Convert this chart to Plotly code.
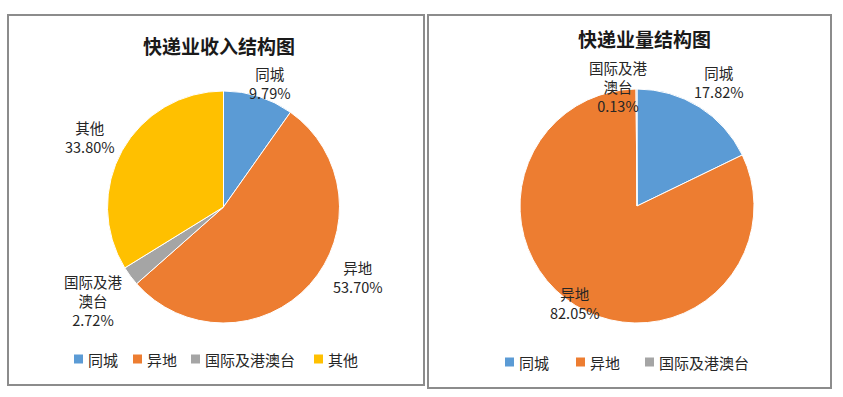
import plotly.graph_objects as go

W, H = 843, 397

# ---- data ----
income_labels = ["同城", "异地", "国际及港澳台", "其他"]
income_values = [9.79, 53.70, 2.72, 33.80]
volume_labels = ["同城", "异地", "国际及港澳台"]
volume_values = [17.82, 82.05, 0.13]
titles = ["快递业收入结构图", "快递业量结构图"]

colors = {"同城": "#5B9BD5", "异地": "#ED7D31", "国际及港澳台": "#A5A5A5", "其他": "#FFC000"}
FONT = "Noto Sans CJK SC"
TXT = "#262626"

def px(x):
    return x / W

def py(y):
    return 1 - y / H

def wrap(s):
    return s if len(s) <= 4 else s[:4] + "<br>" + s[4:]

fig = go.Figure()

# pies: (labels, values, center px, radius px)
pies = [
    (income_labels, income_values, (223.5, 207), 116),
    (volume_labels, volume_values, (637, 206), 117),
]
for labels, values, (cx, cy), r in pies:
    fig.add_trace(go.Pie(
        labels=labels, values=values, sort=False, direction="clockwise", rotation=0,
        marker=dict(colors=[colors[l] for l in labels], line=dict(color="white", width=1)),
        textinfo="none", hoverinfo="label+percent", showlegend=False,
        domain=dict(x=[px(cx - r), px(cx + r)], y=[py(cy + r), py(cy - r)]),
    ))

# panel frames
frames = [(8, 15, 424, 385), (428, 15, 831, 388)]
for x0, y0, x1, y1 in frames:
    fig.add_shape(type="rect", xref="paper", yref="paper",
                  x0=px(x0), x1=px(x1), y0=py(y1), y1=py(y0),
                  line=dict(color="#8c8c8c", width=2), fillcolor="rgba(0,0,0,0)", layer="below")

# titles
title_pos = [(219, 45), (644, 39)]
for t, (x, y) in zip(titles, title_pos):
    fig.add_annotation(text=f"<b>{t}</b>", x=px(x), y=py(y), xref="paper", yref="paper",
                       showarrow=False, font=dict(family=FONT, size=19, color="#1a1a1a"),
                       xanchor="center", yanchor="middle")

# data labels (positions of label centres, px)
label_pos = [
    [(270, 83), (358, 277), (93, 300), (90, 137)],
    [(719, 82), (575, 303), (618, 87)],
]
for (labels, values, _, _), poss in zip(pies, label_pos):
    for l, v, (x, y) in zip(labels, values, poss):
        fig.add_annotation(text=f"{wrap(l)}<br>{v:.2f}%", x=px(x), y=py(y),
                           xref="paper", yref="paper", showarrow=False,
                           font=dict(family=FONT, size=14.5, color=TXT),
                           align="center", xanchor="center", yanchor="middle")

# legends (square + text), x of square left edge in px
legend_pos = [
    ([74, 133, 191, 314], 359),
    ([505, 576, 645], 362),
]
for (labels, _, _, _), (xs, y) in zip(pies, legend_pos):
    for l, x in zip(labels, xs):
        fig.add_shape(type="rect", xref="paper", yref="paper",
                      x0=px(x), x1=px(x + 9), y0=py(y + 4.5), y1=py(y - 4.5),
                      fillcolor=colors[l], line=dict(width=0))
        fig.add_annotation(text=l, x=px(x + 12), y=py(y), xref="paper", yref="paper",
                           showarrow=False, xanchor="left", yanchor="middle",
                           font=dict(family=FONT, size=15, color=TXT))

fig.update_layout(width=W, height=H, margin=dict(l=0, r=0, t=0, b=0),
                  paper_bgcolor="white", plot_bgcolor="white",
                  font=dict(family=FONT))
fig.write_html("out.html", config={"displayModeBar": False},
               post_script="document.body.style.margin='0';")
